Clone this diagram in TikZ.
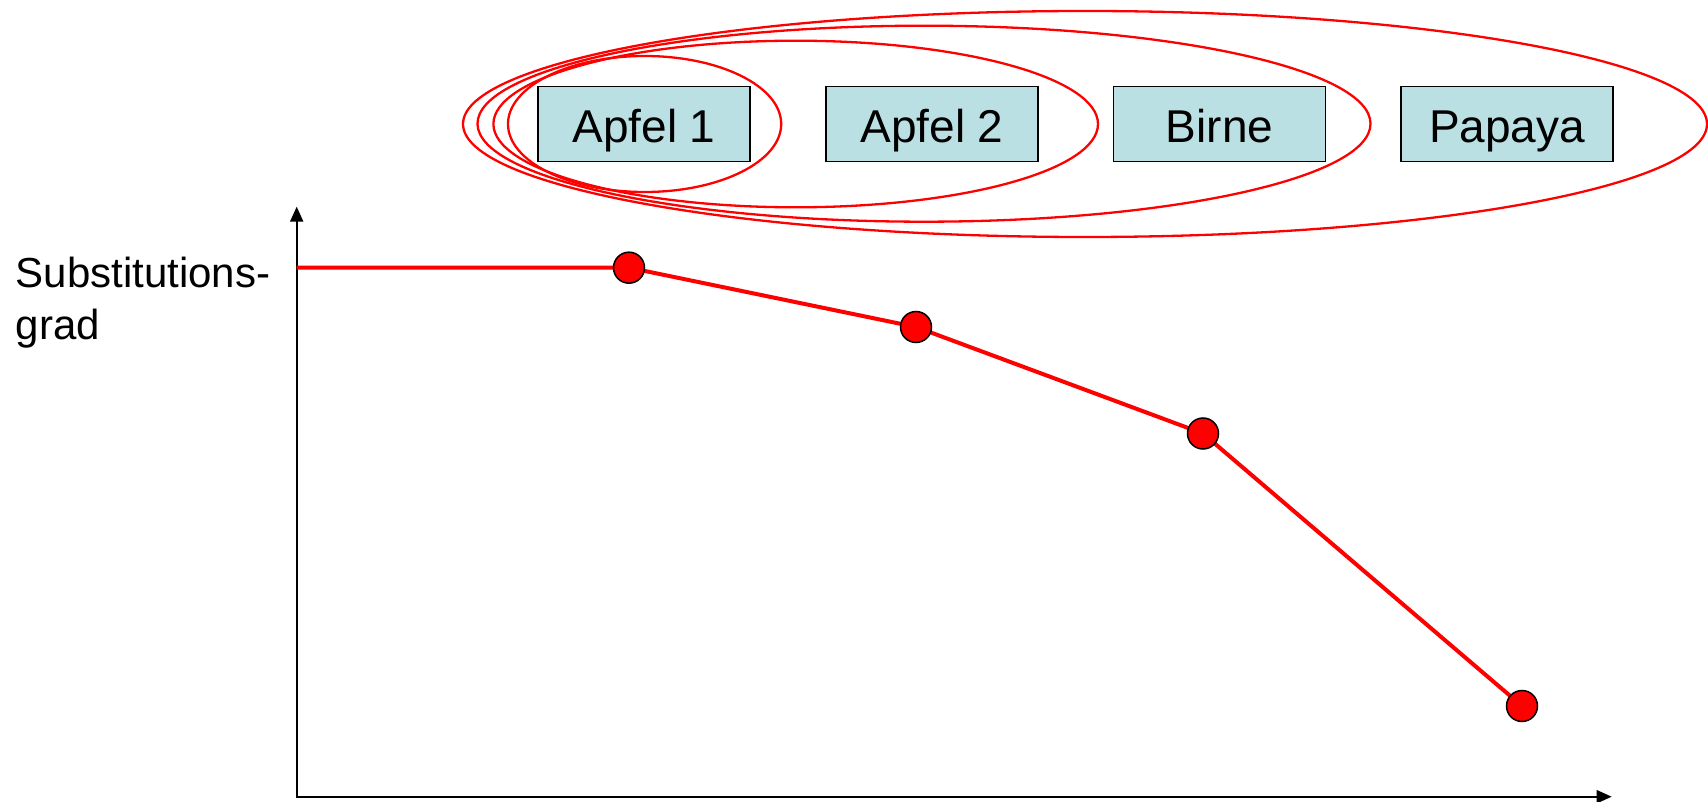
\documentclass[tikz,border=0pt]{standalone}
\usepackage{fontspec}
\setmainfont{Liberation Sans}
\usetikzlibrary{arrows.meta}
\definecolor{boxfill}{RGB}{187,224,227}
\definecolor{pure}{RGB}{255,0,0}
\begin{document}
\begin{tikzpicture}[x=1pt,y=-1pt,
  fruit/.style={draw=black,line width=1.5pt,fill=boxfill,minimum width=212pt,minimum height=75pt,inner sep=0pt,text height=37.4pt,text depth=0pt,font=\fontsize{46}{52}\selectfont},
  group/.style={draw=pure,line width=2.3pt},
  curve/.style={draw=pure,line width=4pt},
  dot/.style={circle,draw=black,line width=1.5pt,fill=pure,minimum size=31pt,inner sep=0pt},
  axis/.style={draw=black,line width=2pt},
  lbl/.style={anchor=base west,inner sep=0pt,font=\fontsize{42}{50}\selectfont}]
\useasboundingbox (0,0) rectangle (1708,802);
% boxes
\node[fruit] (a1) at (644,124) {Apfel 1};
\node[fruit] (a2) at (932,124) {Apfel 2};
\node[fruit] (bi) at (1219.5,124) {Birne};
\node[fruit] (pa) at (1507,124) {Papaya};
% grouping ellipses
\draw[group] (644.6,124) ellipse [x radius=136.6, y radius=68];
\draw[group] (795.7,124) ellipse [x radius=302.3, y radius=83.3];
\draw[group] (924,123.7) ellipse [x radius=446.5, y radius=98];
\draw[group] (1085,124) ellipse [x radius=622, y radius=113];
% axes
\coordinate (origin) at (296.7,796.7);
\coordinate (ytop) at (296.7,206.7);
\coordinate (xend) at (1611.7,796.7);
\draw[axis,{Triangle[length=15pt,width=13pt]}-{Triangle[length=15pt,width=13pt]}] (ytop) -- (origin) -- (xend);
% label
\node[lbl] (lab1) at (15.6,287.5) {Substitutions-};
\node[lbl] (lab2) at (15.6,339) {grad};
% curve
\coordinate (p0) at (296.7,267.7);
\coordinate (p1) at (629,267.7);
\coordinate (p2) at (916,327);
\coordinate (p3) at (1203,433.5);
\coordinate (p4) at (1522,706);
\draw[curve] (p0) -- (p1) -- (p2) -- (p3) -- (p4);
\node[dot] (d1) at (p1) {};
\node[dot] (d2) at (p2) {};
\node[dot] (d3) at (p3) {};
\node[dot] (d4) at (p4) {};
\end{tikzpicture}
\end{document}
